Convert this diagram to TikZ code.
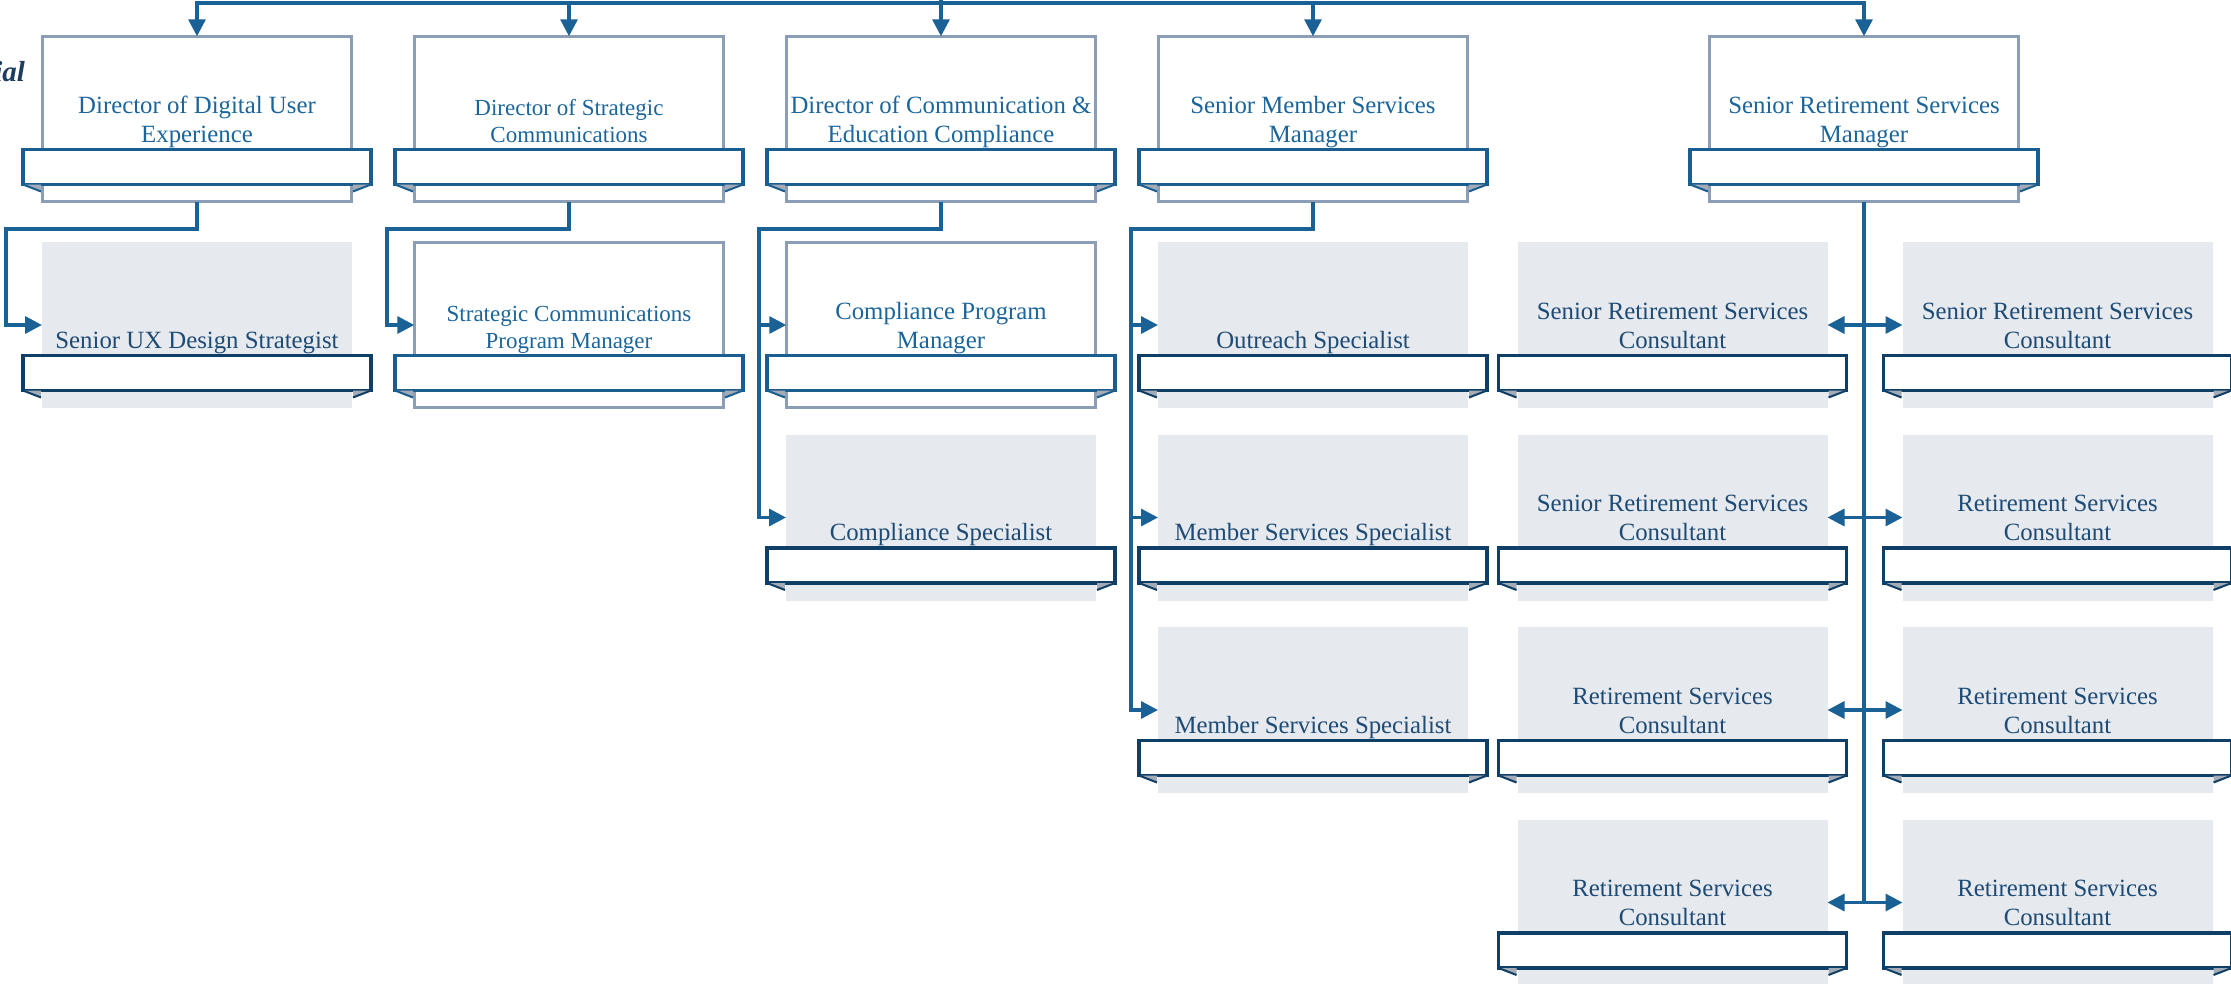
\documentclass[tikz,border=0pt]{standalone}
\usepackage{fontspec}
\setmainfont{Liberation Serif}
\usetikzlibrary{arrows.meta,calc}

\definecolor{linkblue}{HTML}{1A6196}
\definecolor{edgegrey}{HTML}{8C9EB6}
\definecolor{vacantfill}{HTML}{E6E9EE}
\definecolor{titleblue}{HTML}{1B659B}
\definecolor{titlenavy}{HTML}{1D4B75}
\definecolor{ribbonblue}{HTML}{1A5E90}
\definecolor{ribbonnavy}{HTML}{0F3E66}
\definecolor{foldgrey}{HTML}{A3ABB6}
\definecolor{headnavy}{HTML}{1C3D5E}

\tikzset{
  every node/.style={outer sep=0pt, inner sep=0pt},
  % filled position: white card with a grey-blue edge
  wbox/.style={draw=edgegrey, line width=2.6pt, fill=white,
    minimum width=309.5pt, minimum height=165.5pt},
  % open position: plain grey card
  gbox/.style={fill=vacantfill, minimum width=310pt, minimum height=166pt},
  wtext/.style={text=titleblue, anchor=base, font=\fontsize{24.8}{29}\selectfont},
  gtext/.style={text=titlenavy, anchor=base, font=\fontsize{24.8}{29}\selectfont},
  smalltext/.style={font=\fontsize{23}{27}\selectfont},
  wbanner/.style={draw=ribbonblue, line width=3.2pt, fill=white,
    minimum width=348pt, minimum height=35pt},
  gbanner/.style={draw=ribbonnavy, line width=3.2pt, fill=white,
    minimum width=348pt, minimum height=35pt},
  wfold/.style={draw=ribbonblue, line width=2pt},
  gfold/.style={draw=ribbonnavy, line width=2pt},
  conn/.style={draw=linkblue, line width=3.3pt},
  tip/.style={-{Triangle[length=17pt,width=17pt]}},
  twotip/.style={{Triangle[length=17pt,width=17pt]}-{Triangle[length=17pt,width=17pt]}},
}

% card with title and ribbon: [extra text keys]{name}{centre x}{top y}{w|g}{title}
\newcommand{\poscard}[6][]{%
  \node[#5box] (#2) at (#3,#4+83) {};
  \node[#5text,#1] (#2-t) at (#3,#4+106) {\parbox[b]{330pt}{\centering #6}};
  \node[#5banner] (#2-b) at (#3,#4+131) {};
  \fill[foldgrey] (#2-b.south west) -- ++(18,0) -- ++(0,7) -- cycle;
  \draw[#5fold] (#2-b.south west) -- ++(18,7);
  \fill[foldgrey] (#2-b.south east) -- ++(-18,0) -- ++(0,7) -- cycle;
  \draw[#5fold] (#2-b.south east) -- ++(-18,7);
}

\begin{document}
\begin{tikzpicture}[x=1pt,y=-1pt]
\useasboundingbox (0,0) rectangle (2231,983);

\node[anchor=base east, text=headnavy,
  font=\fontsize{29}{34}\selectfont\bfseries\itshape] (head) at (25,81) {ial};

% directors and managers
\poscard{d1}{197}{36}{w}{Director of Digital User\\Experience}
\poscard[smalltext]{d2}{569}{36}{w}{Director of Strategic\\Communications}
\poscard{d3}{941}{36}{w}{Director of Communication \&\\Education Compliance}
\poscard{d4}{1313}{36}{w}{Senior Member Services\\Manager}
\poscard{d5}{1864}{36}{w}{Senior Retirement Services\\Manager}

% first row of staff
\poscard{r1c1}{197}{242}{g}{Senior UX Design Strategist}
\poscard[smalltext]{r1c2}{569}{242}{w}{Strategic Communications\\Program Manager}
\poscard{r1c3}{941}{242}{w}{Compliance Program\\Manager}
\poscard{r1c4}{1313}{242}{g}{Outreach Specialist}
\poscard{r1c5}{1672.5}{242}{g}{Senior Retirement Services\\Consultant}
\poscard{r1c7}{2057.5}{242}{g}{Senior Retirement Services\\Consultant}

% second row
\poscard{r2c3}{941}{434.5}{g}{Compliance Specialist}
\poscard{r2c4}{1313}{434.5}{g}{Member Services Specialist}
\poscard{r2c5}{1672.5}{434.5}{g}{Senior Retirement Services\\Consultant}
\poscard{r2c7}{2057.5}{434.5}{g}{Retirement Services\\Consultant}

% third row
\poscard{r3c4}{1313}{627}{g}{Member Services Specialist}
\poscard{r3c5}{1672.5}{627}{g}{Retirement Services\\Consultant}
\poscard{r3c7}{2057.5}{627}{g}{Retirement Services\\Consultant}

% fourth row
\poscard{r4c5}{1672.5}{819.5}{g}{Retirement Services\\Consultant}
\poscard{r4c7}{2057.5}{819.5}{g}{Retirement Services\\Consultant}

% top distribution bus
\coordinate (feed) at (941,0);
\coordinate (bus) at (941,3);
\draw[conn] (feed) -- (bus);
\foreach \d in {d1,d2,d3,d4,d5}
  \draw[conn,tip] (bus) -| (\d.north);

% elbows of the side feeders
\coordinate (e1) at (6,229);
\coordinate (e2) at (387,229);
\coordinate (e3) at (759,229);
\coordinate (e4) at (1131,229);

\draw[conn,tip] (d1.south) |- (e1) |- (r1c1.west);
\draw[conn,tip] (d2.south) |- (e2) |- (r1c2.west);

\draw[conn,tip] (d3.south) |- (e3) |- (r2c3.west);
\draw[conn,tip] (e3 |- r1c3.west) -- (r1c3.west);

\draw[conn,tip] (d4.south) |- (e4) |- (r3c4.west);
\draw[conn,tip] (e4 |- r1c4.west) -- (r1c4.west);
\draw[conn,tip] (e4 |- r2c4.west) -- (r2c4.west);

% retirement services spine
\draw[conn] (d5.south) -- (d5.south |- r4c5.east);
\foreach \r in {r1,r2,r3,r4}
  \draw[conn,twotip] (\r c5.east) -- (\r c7.west);

\end{tikzpicture}
\end{document}
